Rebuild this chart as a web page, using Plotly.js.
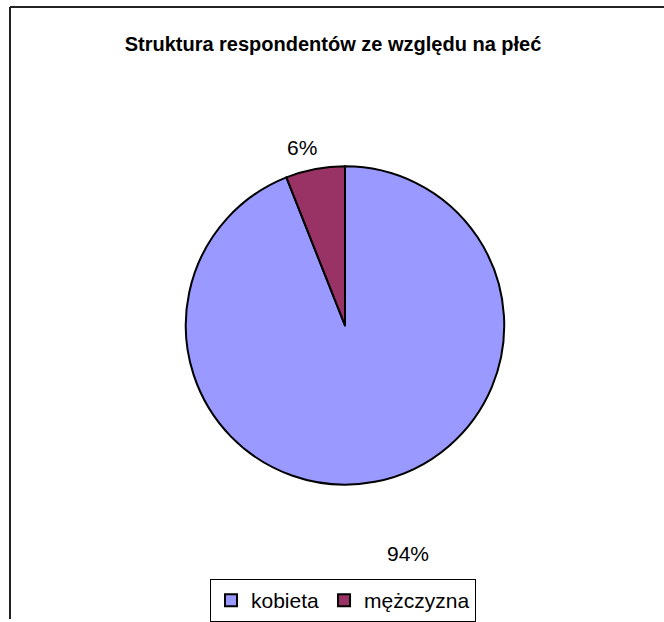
<!DOCTYPE html>
<html>
<head>
<meta charset="utf-8">
<script src="https://cdn.plot.ly/plotly-3.0.1.min.js"></script>
<style>html,body{margin:0;padding:0;background:#fff;}</style>
</head>
<body>
<div id="chart" style="width:664px;height:622px;"></div>
<script>
const categories = ["kobieta", "mężczyzna"];
const values = [94, 6];
const colors = ["#9999FF", "#993366"];
const chartTitle = "Struktura respondentów ze względu na płeć";

const W = 664, H = 622;
const px = x => x / W;
const py = y => 1 - y / H;

const total = values.reduce((a, b) => a + b, 0);
const pctText = values.map(v => Math.round(v / total * 100) + "%");
const labelPos = [[408, 556], [302, 148]];
const FONT = "Liberation Sans, Arial, sans-serif";

const trace = {
  type: "pie",
  labels: categories,
  values: values,
  sort: false,
  direction: "clockwise",
  rotation: 0,
  textinfo: "none",
  hoverinfo: "label+percent",
  marker: {colors: colors, line: {color: "#000000", width: 2}},
  domain: {x: [px(185), px(505)], y: [py(487), py(167)]}
};

const layout = {
  width: W, height: H,
  margin: {l: 0, r: 0, t: 0, b: 0},
  paper_bgcolor: "#ffffff",
  font: {family: FONT, size: 21, color: "#000"},
  title: {
    text: chartTitle,
    font: {family: FONT, size: 20, weight: "bold", color: "#000"},
    x: px(333), xanchor: "center", y: py(44), yanchor: "middle", yref: "paper", xref: "paper"
  },
  showlegend: true,
  legend: {
    orientation: "h",
    x: px(343), xanchor: "center",
    y: py(582), yanchor: "top",
    bordercolor: "#000", borderwidth: 1,
    font: {family: FONT, size: 21, color: "#000"},
    itemwidth: 30,
    tracegroupgap: 0
  },
  annotations: pctText.map((t, i) => ({
    text: t, x: px(labelPos[i][0]), y: py(labelPos[i][1]),
    xref: "paper", yref: "paper", showarrow: false,
    xanchor: "center", yanchor: "middle",
    font: {family: FONT, size: 21, color: "#000"}
  })),
  shapes: [
    {type: "line", xref: "paper", yref: "paper", x0: px(10), x1: 1, y0: py(7), y1: py(7), line: {color: "#222", width: 2}},
    {type: "line", xref: "paper", yref: "paper", x0: px(10), x1: px(10), y0: py(7), y1: 0, line: {color: "#222", width: 2}}
  ]
};

Plotly.newPlot("chart", [trace], layout, {displayModeBar: false, staticPlot: true});
</script>
</body>
</html>
